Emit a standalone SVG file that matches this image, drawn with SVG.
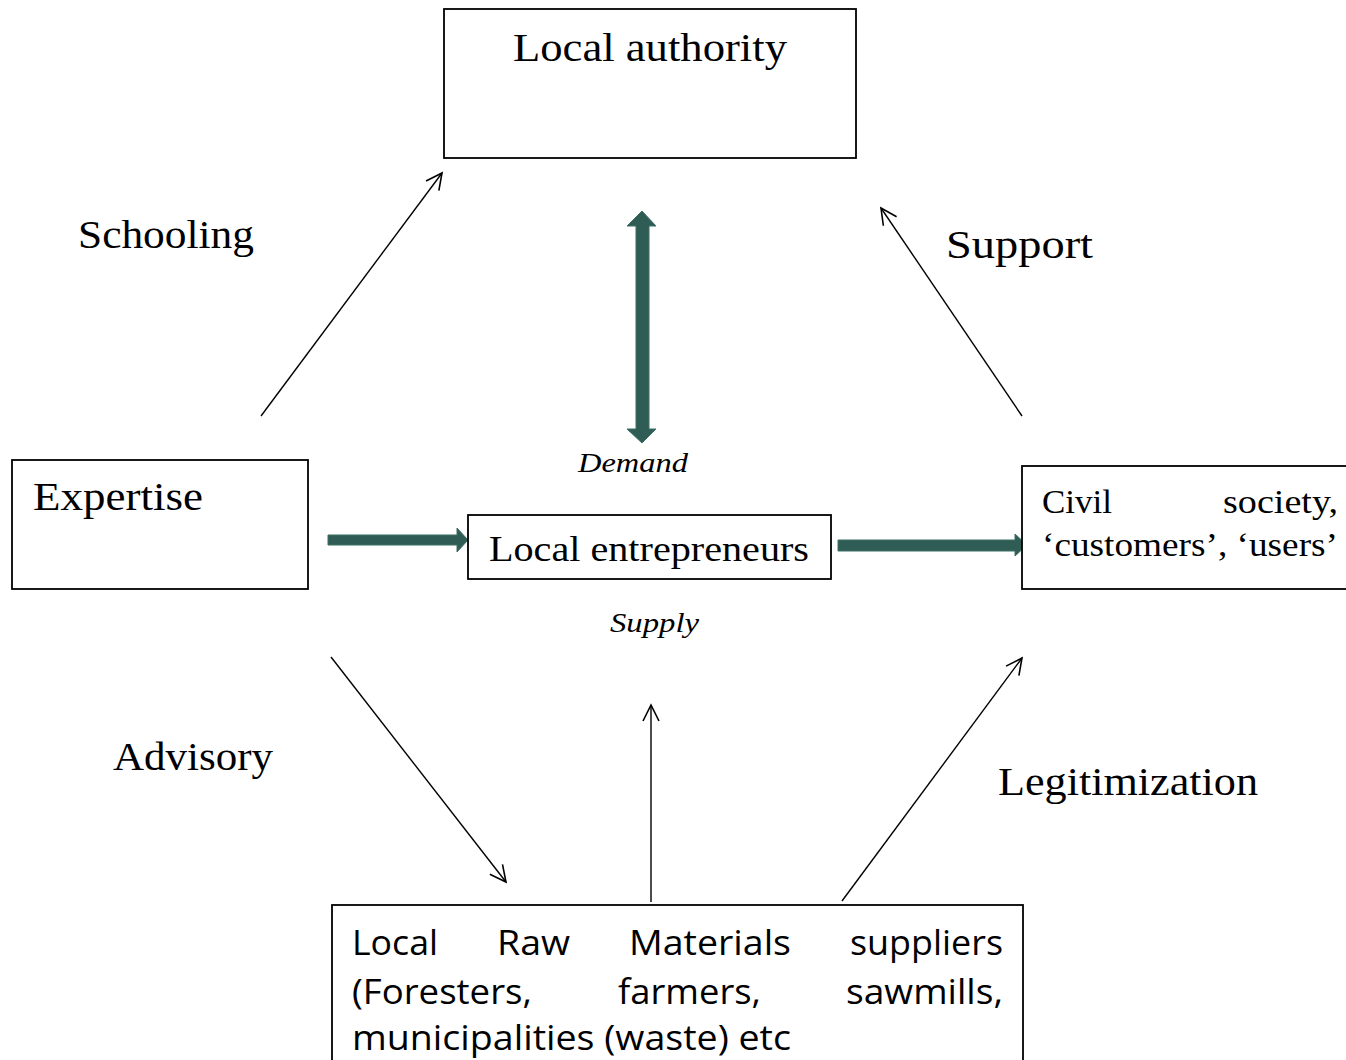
<svg xmlns="http://www.w3.org/2000/svg" width="1346" height="1060" viewBox="0 0 1346 1060">
<defs>
<style>
.box{fill:#fff;stroke:#000;stroke-width:1.8}
.thin{fill:none;stroke:#000;stroke-width:1.4}
.big{fill:#2F5D55;stroke:#3E6E65;stroke-width:1}
.serif{font-family:"Liberation Serif","DejaVu Serif",serif;fill:#000}
.sans{font-family:"Open Sans","Liberation Sans",sans-serif;fill:#000;font-size:34px}
.it{font-style:italic}
</style>
<marker id="open" viewBox="0 0 20 20" refX="18" refY="10" markerWidth="20" markerHeight="20" markerUnits="userSpaceOnUse" orient="auto">
<path d="M2,2 L18,10 L2,18" fill="none" stroke="#000" stroke-width="1.6"/>
</marker>
</defs>
<rect width="1346" height="1060" fill="#fff"/>
<g id="connectors">
<line class="thin" x1="261" y1="416" x2="442" y2="173" marker-end="url(#open)"/>
<line class="thin" x1="1022" y1="416" x2="881" y2="208" marker-end="url(#open)"/>
<line class="thin" x1="331" y1="657" x2="506" y2="882" marker-end="url(#open)"/>
<line class="thin" x1="651" y1="902" x2="651" y2="705" marker-end="url(#open)"/>
<line class="thin" x1="842" y1="901" x2="1022" y2="658" marker-end="url(#open)"/>
<polygon class="big" points="642,211 656,226 649,226 649,429 656,429 642,443 627,429 636,429 636,226 627,226"/>
<polygon class="big" points="328,535 457,535 457,528 468,540 457,552 457,545 328,545"/>
<polygon class="big" points="838,540 1015,540 1015,534 1027,545 1015,556 1015,551 838,551"/>
</g>
<g id="local-authority">
<rect class="box" x="444" y="9" width="412" height="149"/>
<text class="serif" x="513" y="61" font-size="40" textLength="274" lengthAdjust="spacingAndGlyphs">Local authority</text>
</g>
<g id="expertise">
<rect class="box" x="12" y="460" width="296" height="129"/>
<text class="serif" x="33" y="510" font-size="40" textLength="170" lengthAdjust="spacingAndGlyphs">Expertise</text>
</g>
<g id="local-entrepreneurs">
<rect class="box" x="468" y="515" width="363" height="64" stroke-width="1.2"/>
<text class="serif" x="489" y="561" font-size="35" textLength="320" lengthAdjust="spacingAndGlyphs">Local entrepreneurs</text>
</g>
<g id="civil-society">
<rect class="box" x="1022" y="466" width="330" height="123"/>
<text class="serif" x="1042" y="513" font-size="34" textLength="70" lengthAdjust="spacingAndGlyphs">Civil</text>
<text class="serif" x="1223" y="513" font-size="34" textLength="115" lengthAdjust="spacingAndGlyphs">society,</text>
<text class="serif" x="1042" y="556" font-size="34" textLength="296" lengthAdjust="spacingAndGlyphs">‘customers’, ‘users’</text>
</g>
<g id="raw-materials">
<rect class="box" x="332" y="905" width="691" height="170"/>
<text class="sans" x="352" y="955" textLength="86" lengthAdjust="spacingAndGlyphs">Local</text>
<text class="sans" x="497" y="955" textLength="73" lengthAdjust="spacingAndGlyphs">Raw</text>
<text class="sans" x="629" y="955" textLength="162" lengthAdjust="spacingAndGlyphs">Materials</text>
<text class="sans" x="850" y="955" textLength="153" lengthAdjust="spacingAndGlyphs">suppliers</text>
<text class="sans" x="352" y="1004" textLength="180" lengthAdjust="spacingAndGlyphs">(Foresters,</text>
<text class="sans" x="618" y="1004" textLength="143" lengthAdjust="spacingAndGlyphs">farmers,</text>
<text class="sans" x="846" y="1004" textLength="157" lengthAdjust="spacingAndGlyphs">sawmills,</text>
<text class="sans" x="352" y="1050" textLength="439" lengthAdjust="spacingAndGlyphs">municipalities (waste) etc</text>
</g>
<g id="labels">
<text class="serif" x="78" y="248" font-size="40" textLength="176" lengthAdjust="spacingAndGlyphs">Schooling</text>
<text class="serif" x="946" y="258" font-size="40" textLength="147" lengthAdjust="spacingAndGlyphs">Support</text>
<text class="serif it" x="578" y="472" font-size="28" textLength="110" lengthAdjust="spacingAndGlyphs">Demand</text>
<text class="serif it" x="610" y="632" font-size="28" textLength="89" lengthAdjust="spacingAndGlyphs">Supply</text>
<text class="serif" x="113" y="770" font-size="40" textLength="160" lengthAdjust="spacingAndGlyphs">Advisory</text>
<text class="serif" x="998" y="795" font-size="40" textLength="260" lengthAdjust="spacingAndGlyphs">Legitimization</text>
</g>
</svg>
